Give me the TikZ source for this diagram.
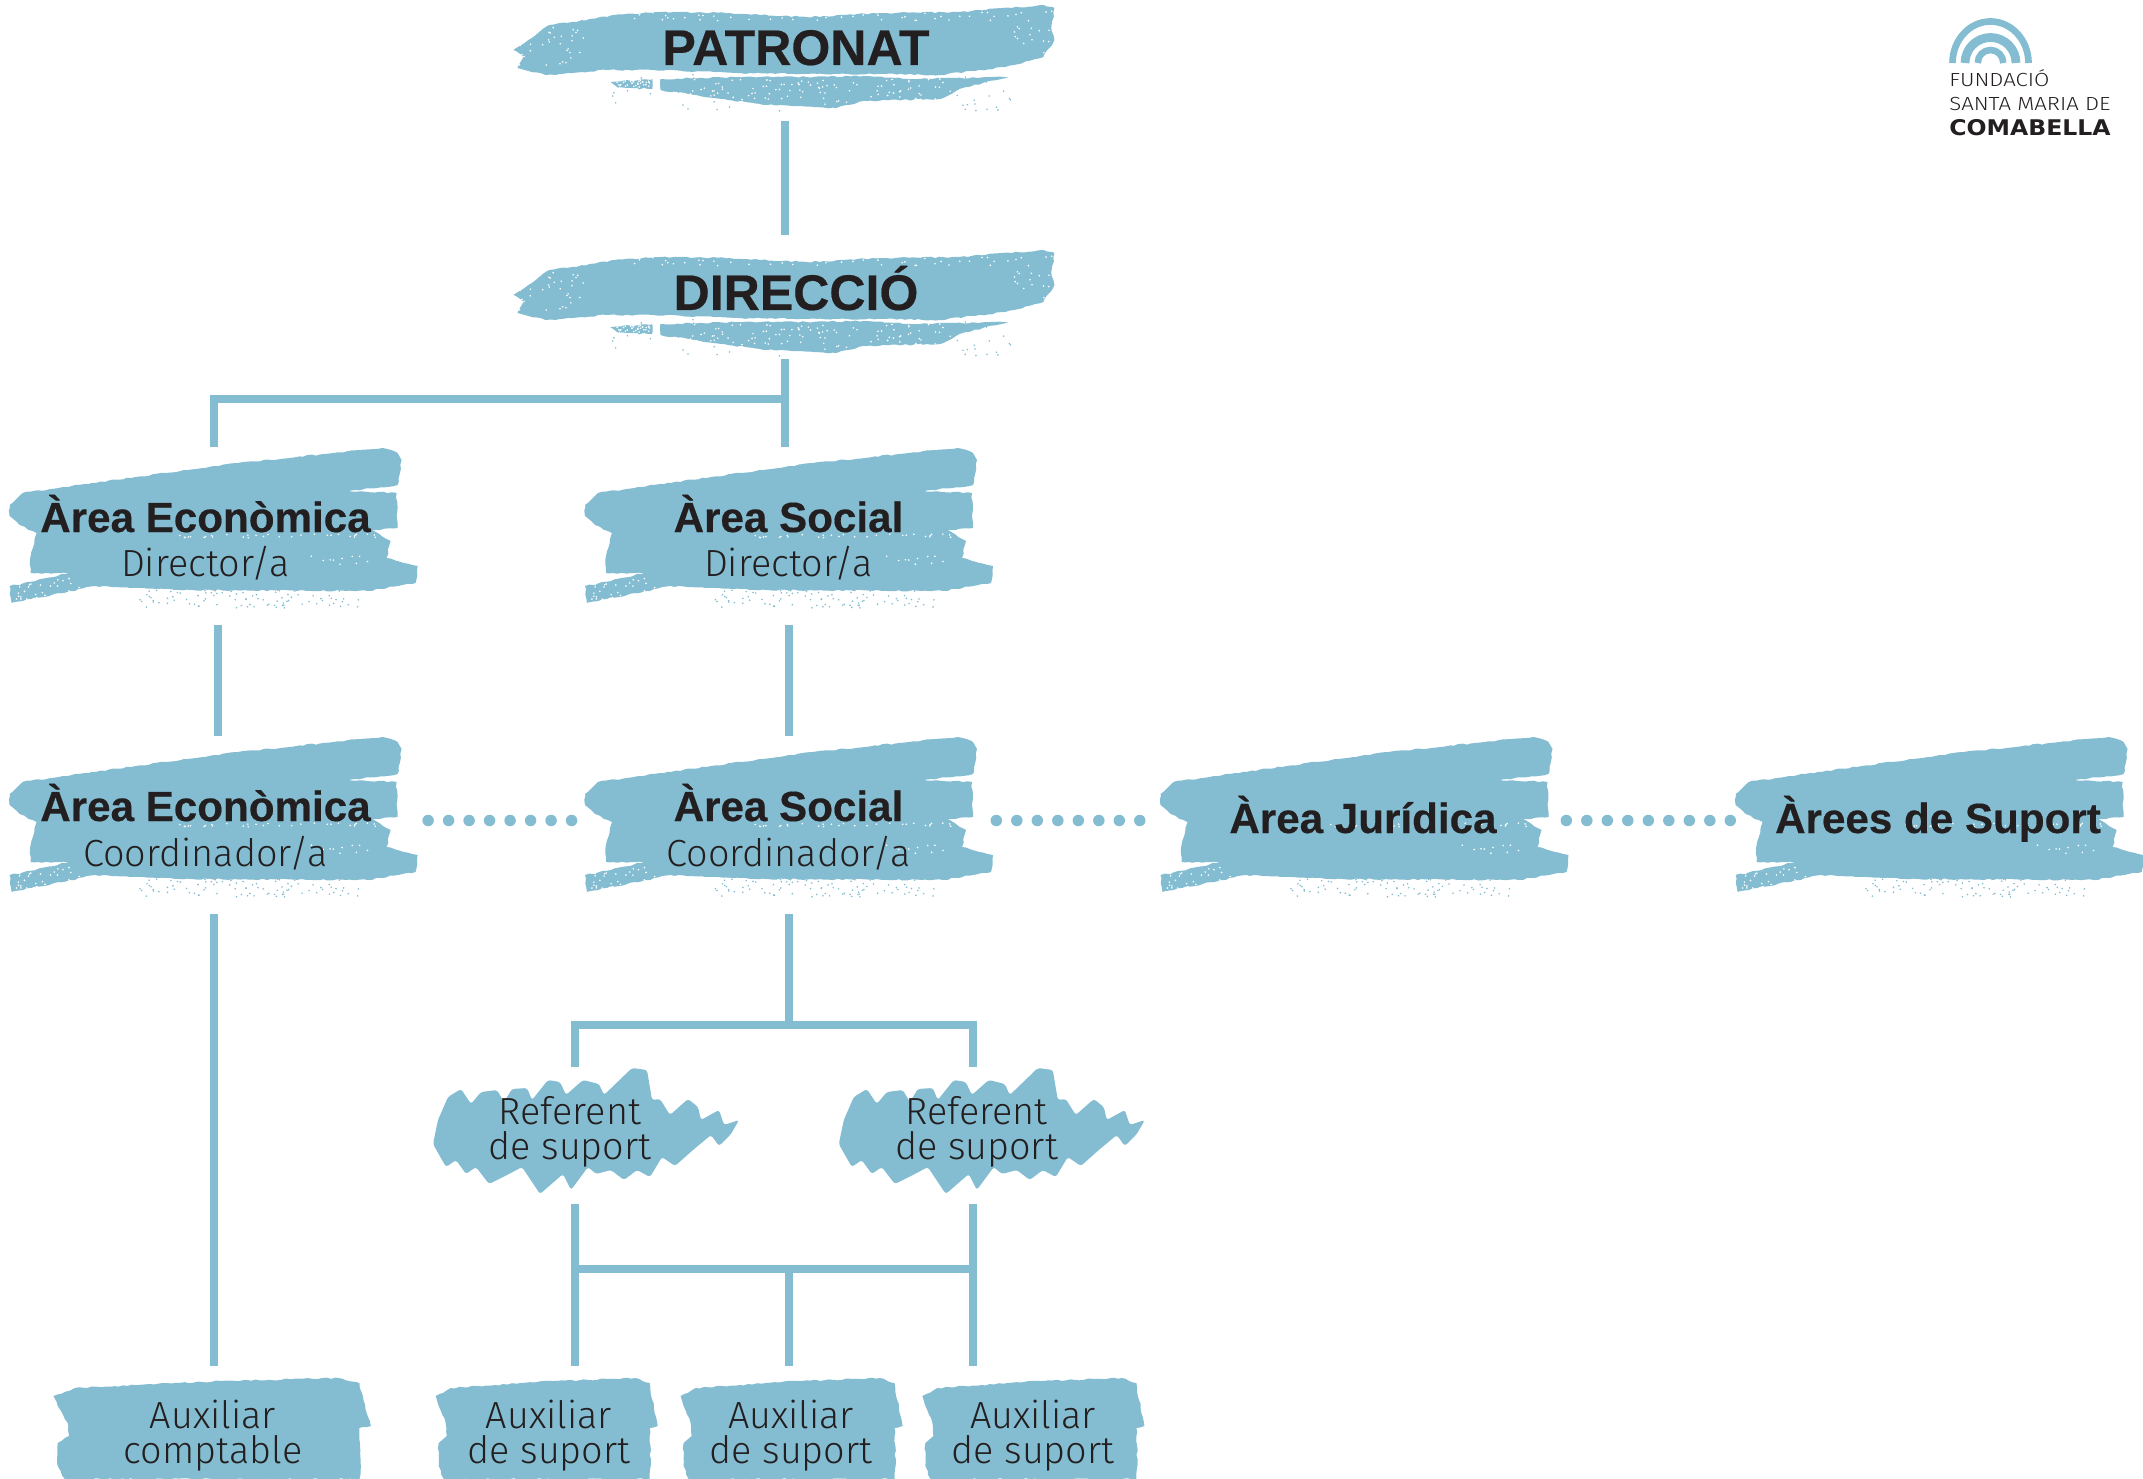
\documentclass[tikz,border=0pt]{standalone}
\usepackage{fontspec}
\setmainfont{Liberation Sans}[BoldFeatures={FakeBold=0.4}]
\newfontfamily\thinfont{Fira Sans Light}
\newfontfamily\logofont[FakeStretch=1.17]{Fira Sans Light}
\newfontfamily\widefont[FakeStretch=1.09]{DejaVu Sans}
\usetikzlibrary{decorations.pathmorphing}
\definecolor{brushblue}{HTML}{84BDD1}
\definecolor{inkblack}{HTML}{231F20}
\newcommand{\brushgrain}[6]{%
  \foreach \i in {1,...,#2} {
    \pgfmathsetmacro{\grainx}{#3+rnd*(#4-#3)}
    \pgfmathsetmacro{\grainy}{#5+rnd*(#6-#5)}
    \fill[#1] (\grainx,\grainy) circle (.9);
  }
}
\newcommand{\areahead}[1]{{\rmfamily\bfseries\fontsize{24}{25.6}\selectfont #1}}
\tikzset{
  brushfill/.style={fill=brushblue, decorate, decoration={random steps, segment length=2.5pt, amplitude=.45pt}},
  link/.style={draw=brushblue, line width=.16cm},
  dotlink/.style={draw=brushblue, line width=.23cm, line cap=round, dash pattern=on 0pt off .41cm},
  boxtext/.style={inner sep=0pt, anchor=base, align=center, text=inkblack, font=\thinfont\fontsize{21.5}{19.6}\selectfont},
  headtext/.style={boxtext, font=\bfseries\fontsize{28.5}{30}\selectfont},
  areatext/.style={boxtext, minimum width=8.16cm, text height=2.6cm, text depth=.96cm, font=\thinfont\fontsize{21.5}{25.6}\selectfont},
  areaname/.style={font=\bfseries\fontsize{24}{25.6}\selectfont},
  logotext/.style={inner sep=0pt, anchor=base west, text=inkblack, font=\logofont\fontsize{10.8}{10}\selectfont},
  widebrush/.pic={
    \pgfmathsetseed{11}
    \fill[brushfill] (0,45) -- (15,35) -- (36,20) -- (59,17) -- (101,10) -- (147,7) -- (216,8) -- (293,12) -- (369,8) -- (446,7) -- (530,0) -- (541,3) -- (538,22) -- (541,35) -- (530,52) -- (492,62) -- (427,70) -- (369,69) -- (293,69) -- (224,68) -- (140,65) -- (94,65) -- (32,70) -- (4,63) -- (10,52) -- cycle;
    \fill[brushfill] (147,74) -- (224,72) -- (293,72) -- (350,71) -- (407,74) -- (495,72) -- (446,84) -- (427,94) -- (350,96) -- (323,103) -- (254,100) -- (200,93) -- (147,85) -- cycle;
    \fill[brushfill] (97,77) -- (139,74) -- (139,84) -- (105,83) -- cycle;
    \brushgrain{white}{40}{95}{145}{74}{85}
    \brushgrain{white}{110}{170}{440}{74}{100}
    \brushgrain{brushblue}{60}{97}{500}{68}{106}
    \brushgrain{white}{35}{5}{70}{22}{60}
    \brushgrain{white}{70}{100}{540}{2}{16}
    \brushgrain{white}{15}{500}{541}{20}{56}
  },
  areabrush/.pic={
    \pgfmathsetseed{23}
    \fill[brushfill] (0,57) -- (13,45) -- (82,35) -- (178,22) -- (228,15) -- (373,0) -- (388,5) -- (392,12) -- (388,37) -- (339,43) -- (387,45) -- (388,80) -- (362,82) -- (381,93) -- (377,110) -- (408,118) -- (406,135) -- (358,143) -- (182,142) -- (86,138) -- (2,155) -- (0,138) -- (59,125) -- (21,125) -- (21,108) -- (27,85) -- (10,77) -- (0,68) -- cycle;
    \brushgrain{white}{30}{170}{370}{86}{90}
    \brushgrain{white}{35}{5}{70}{130}{152}
    \brushgrain{brushblue}{90}{130}{350}{141}{160}
    \brushgrain{white}{10}{300}{370}{106}{118}
  },
  refbrush/.pic={
    \fill[brushblue, rounded corners=1.5pt] (0,77) -- (5,53) -- (15,30) -- (28,22) -- (38,37) -- (48,25) -- (64,23) -- (71,35) -- (79,22) -- (94,21) -- (99,33) -- (115,13) -- (127,15) -- (133,28) -- (150,13) -- (166,17) -- (171,28) -- (199,1) -- (214,3) -- (219,33) -- (227,32) -- (237,48) -- (255,32) -- (265,40) -- (268,53) -- (286,43) -- (291,58) -- (306,53) -- (298,67) -- (286,79) -- (278,68) -- (260,83) -- (242,99) -- (229,90) -- (217,110) -- (204,103) -- (191,113) -- (178,103) -- (163,107) -- (155,100) -- (138,123) -- (130,107) -- (107,127) -- (89,100) -- (76,107) -- (56,117) -- (43,100) -- (33,107) -- (23,93) -- (13,100) -- cycle;
  },
  auxbrush/.pic={
    \pgfmathsetseed{5}
    \fill[brushfill] (1,18) -- (16,10) -- (118,3) -- (200,0) -- (215,5) -- (220,35) -- (223,48) -- (215,50) -- (216,88) -- (215,101) -- (9,101) -- (4,88) -- (4,65) -- (12,58) -- (11,45) -- (4,28) -- cycle;
  },
}
\begin{document}
\begin{tikzpicture}[x=.02cm, y=-.02cm]
  \useasboundingbox (0,0) rectangle (2143,1479);
  \coordinate (dotrow) at (0,820.5);

  \pic at (513.4,5) {widebrush};
  \pic at (513.4,250) {widebrush};
  \foreach \xpos/\ypos in {9.6/448,585/448,9.6/737,585/737,1160.5/737,1735.6/737} {
    \pic at (\xpos,\ypos) {areabrush};
  }
  \foreach \xpos in {433,838.8} {
    \pic at (\xpos,1067) {refbrush};
  }
  \pic[xscale=1.43] at (52,1378) {auxbrush};
  \foreach \xpos in {434.7,679.6,921.4} {
    \pic at (\xpos,1378) {auxbrush};
  }

  \node[headtext, text depth=1.12cm] (patronat) at (796,65) {PATRONAT};
  \node[headtext, text height=1.5cm, text depth=.98cm] (direccio) at (796,310) {DIRECCIÓ};
  \node[areatext] (ecodir) at (205.5,577) {\areahead{Àrea Econòmica}\\Director/a};
  \node[areatext] (socdir) at (788.5,577) {\areahead{Àrea Social}\\Director/a};
  \node[areatext] (ecocoord) at (205.5,866) {\areahead{Àrea Econòmica}\\Coordinador/a};
  \node[areatext] (soccoord) at (788.5,866) {\areahead{Àrea Social}\\Coordinador/a};
  \node[areatext, areaname] (juridica) at (1363,833) {Àrea Jurídica};
  \node[areatext, areaname] (suport) at (1938,833) {Àrees de Suport};
  \foreach \name/\xpos in {refa/570,refb/976.5} {
    \node[boxtext, text height=1.84cm, text depth=.9cm] (\name) at (\xpos,1159) {Referent\\de suport};
  }
  \node[boxtext, text height=1.94cm] (auxcomp) at (213,1463) {Auxiliar\\comptable};
  \foreach \name/\xpos in {auxa/549,auxb/791,auxc/1033} {
    \node[boxtext, text height=1.94cm] (\name) at (\xpos,1463) {Auxiliar\\de suport};
  }

  \coordinate (spine) at (784.7,0);
  \coordinate (leftlow) at (214,0);
  \coordinate (lefthigh) at (218,0);
  \coordinate (midline) at (788.5,0);
  \coordinate (refleft) at (575,0);
  \coordinate (refright) at (973,0);
  \coordinate (topbus) at (0,399);
  \coordinate (midbus) at (0,1025);
  \coordinate (lowbus) at (0,1269);

  \draw[link] (patronat.south -| spine) -- (direccio.north -| spine);
  \draw[link] (direccio.south -| spine) -- (socdir.north -| spine);
  \draw[link] (spine |- topbus) -| (ecodir.north -| leftlow);
  \draw[link] (ecodir.south -| lefthigh) -- (ecocoord.north -| lefthigh);
  \draw[link] (socdir.south -| midline) -- (soccoord.north -| midline);
  \draw[link] (ecocoord.south -| leftlow) -- (auxcomp.north -| leftlow);
  \draw[link] (soccoord.south -| midline) -- (midline |- midbus);
  \draw[link] (refa.north -| refleft) |- (midline |- midbus) -| (refb.north -| refright);
  \draw[link] (refa.south -| refleft) -- (auxa.north -| refleft);
  \draw[link] (refb.south -| refright) -- (auxc.north -| refright);
  \draw[link] (refleft |- lowbus) -- (refright |- lowbus);
  \draw[link] (midline |- lowbus) -- (auxb.north -| midline);

  \draw[dotlink] (ecocoord.east |- dotrow) ++(18.3,0) -- (soccoord.west |- dotrow);
  \draw[dotlink] (soccoord.east |- dotrow) ++(3.5,0) -- (juridica.west |- dotrow);
  \draw[dotlink] (juridica.east |- dotrow) ++(-1,0) -- (suport.west |- dotrow);

  \foreach \rx/\ry/\wd in {38/41.5/.134,25.5/25.5/.176,12.8/13/.132} {
    \draw[brushblue, line width=\wd cm] (1990.5-\rx,63) arc[start angle=180, end angle=360, x radius=\rx, y radius=\ry];
  }
  \node[logotext] (logoa) at (1949,87) {FUNDACIÓ};
  \node[logotext] (logob) at (1949,111) {SANTA MARIA DE};
  \node[logotext, font=\widefont\bfseries\fontsize{12.3}{11}\selectfont] (logoc) at (1949,136) {COMABELLA};
\end{tikzpicture}
\end{document}
